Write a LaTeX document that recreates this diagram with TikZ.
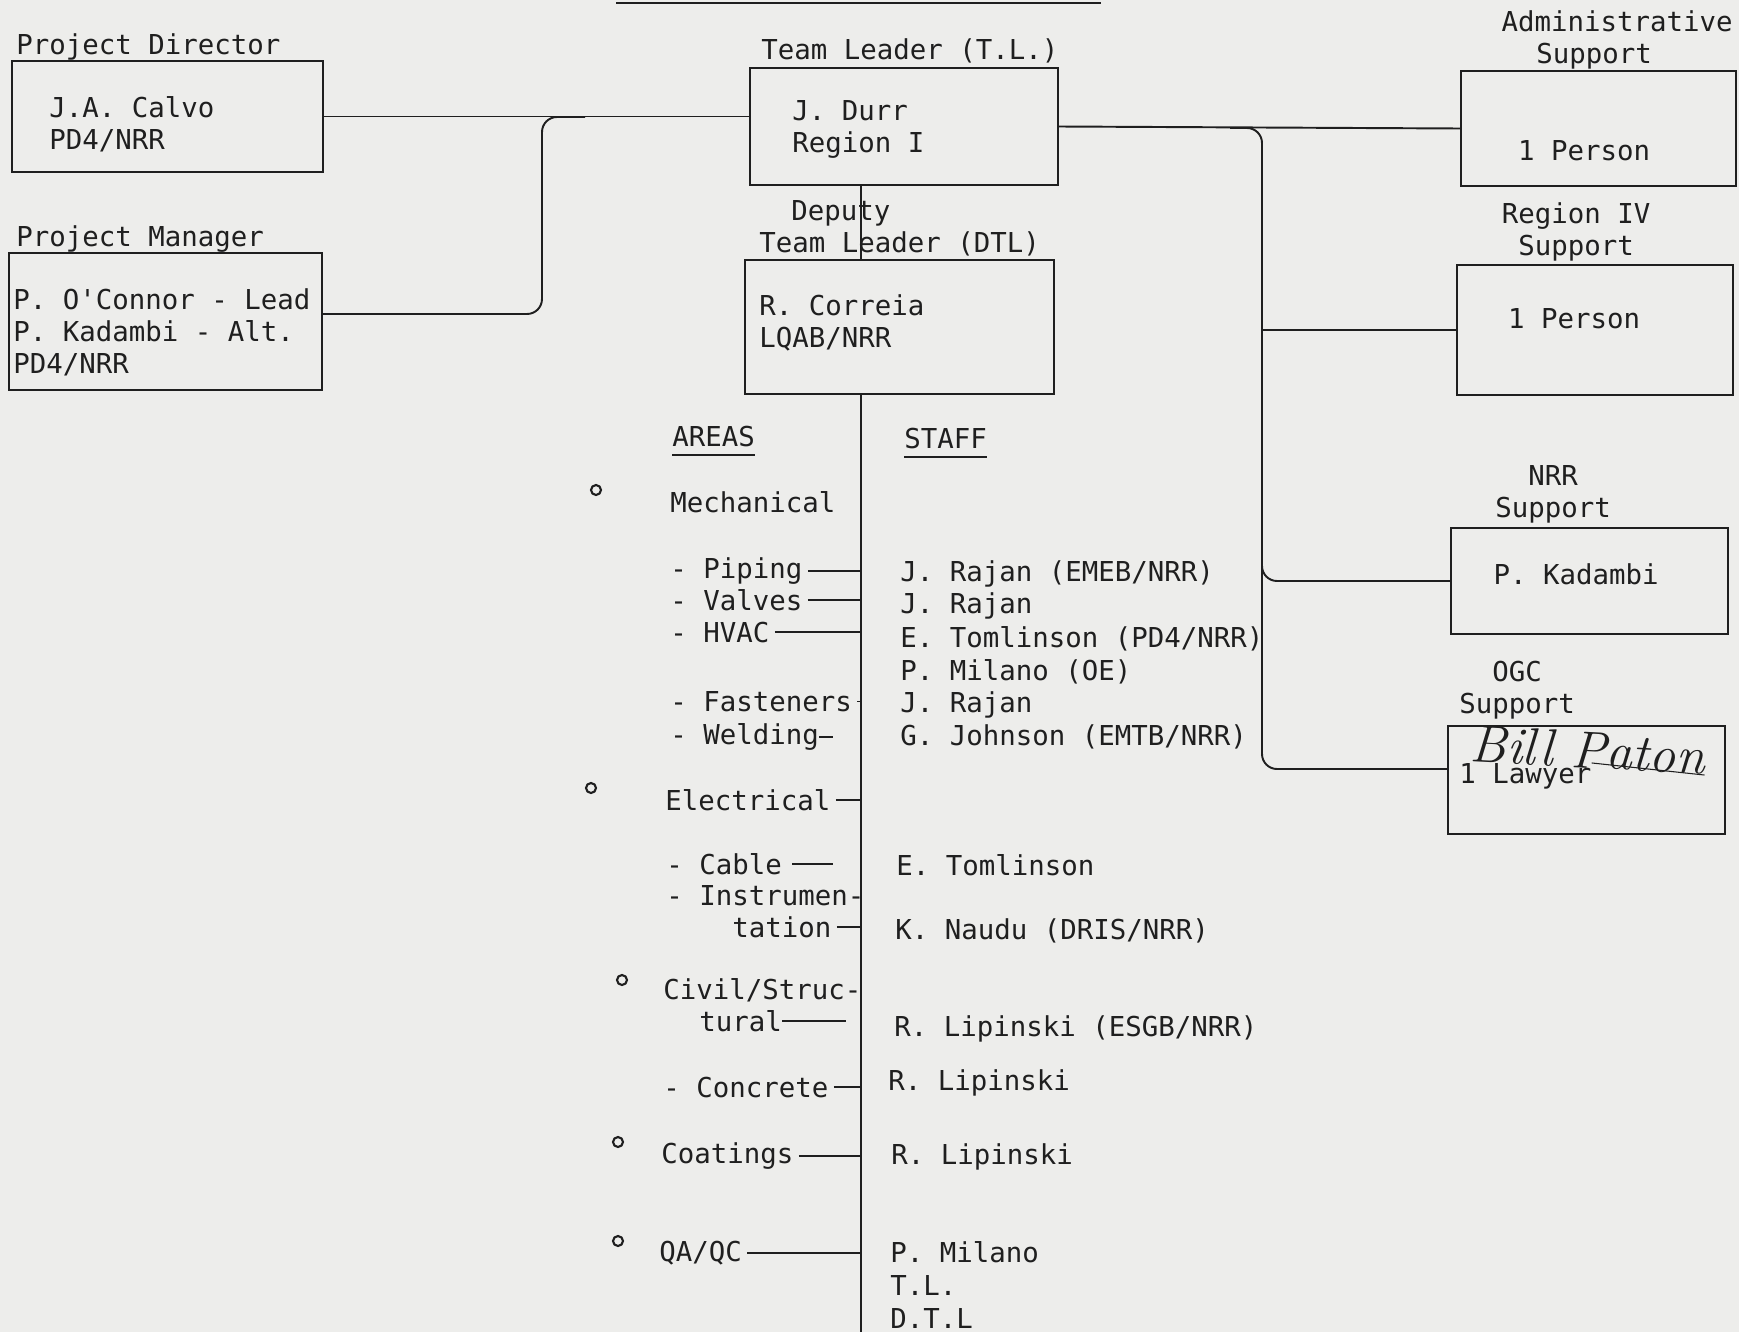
\documentclass[tikz,border=0pt]{standalone}
\usepackage{fontspec}
\usepackage{tikz}
\usetikzlibrary{positioning}
\newfontfamily\chartfont{DejaVu Sans Mono}
\definecolor{ChartInk}{HTML}{1F1F1F}
\definecolor{ChartPaper}{HTML}{EDEDEB}

\begin{document}
\begin{tikzpicture}[
    x=0.02cm, y=-0.02cm,
    unitbox/.style={draw=ChartInk,line width=1.3pt,inner sep=0pt},
    txt/.style={inner sep=0pt,text=ChartInk,
      font=\chartfont\fontsize{15.6}{18.2}\selectfont},
    label/.style={txt,anchor=mid west,yshift=-0.13cm},
    multi/.style={txt,anchor=north west,align=left},
    heading/.style={txt,anchor=north,align=center},
    link/.style={draw=ChartInk,line width=1.1pt},
    dot/.style={circle,draw=ChartInk,line width=1.2pt,inner sep=0pt,
      minimum size=0.2cm}
  ]
  \fill[ChartPaper] (0,0) rectangle (1739,1332);
  \useasboundingbox (0,0) rectangle (1739,1332);
  \draw[link] (616,3) -- (1101,3);

  % boxes
  \node[unitbox,minimum width=6.22cm,minimum height=2.22cm] (pd) at (167.5,116.5) {};
  \node[unitbox,minimum width=6.26cm,minimum height=2.74cm] (pm) at (165.5,321.5) {};
  \node[unitbox,minimum width=6.16cm,minimum height=2.34cm] (tl) at (904,126.5) {};
  \node[unitbox,minimum width=6.18cm,minimum height=2.68cm] (dtl) at (899.5,327) {};
  \node[unitbox,minimum width=5.5cm,minimum height=2.3cm] (adm) at (1598.5,128.5) {};
  \node[unitbox,minimum width=5.52cm,minimum height=2.6cm] (riv) at (1595,330) {};
  \node[unitbox,minimum width=5.54cm,minimum height=2.12cm] (nrr) at (1589.5,581) {};
  \node[unitbox,minimum width=5.54cm,minimum height=2.16cm] (ogc) at (1586.5,780) {};

  % box titles and contents
  \node[label] (pdtitle) at (16,44) {Project Director};
  \node[multi] (pdname) at (49,96) {J.A. Calvo\\PD4/NRR};
  \node[label] (pmtitle) at (16,236) {Project Manager};
  \node[multi] (pmname) at (13,288) {P. O'Connor - Lead\\P. Kadambi - Alt.\\PD4/NRR};
  \node[label] (tltitle) at (761,49) {Team Leader (T.L.)};
  \node[multi] (tlname) at (792,100) {J. Durr\\Region I};
  \node[label] (dtltitle) at (791,210) {Deputy};
  \node[label] (dtltitleb) at (759,242) {Team Leader (DTL)};
  \node[multi] (dtlname) at (759,294) {R. Correia\\LQAB/NRR};
  \node[label,anchor=mid] (admtitle) at (1617,21) {Administrative};
  \node[label,anchor=mid] (admtitleb) at (1594,53) {Support};
  \node[label,anchor=mid] (admname) at (1584,150) {1 Person};
  \node[heading] (rivtitle) at (1576,202) {Region IV\\Support};
  \node[label,anchor=mid] (rivname) at (1574,318) {1 Person};
  \node[heading] (nrrtitle) at (1553,465) {NRR\\Support};
  \node[label,anchor=mid] (nrrname) at (1576,574) {P. Kadambi};
  \node[heading] (ogctitle) at (1517,661) {OGC\\Support};
  \node[label] (lawyer) at (1459,773) {1 Lawyer};
  \node[inner sep=0pt,text=ChartInk,rotate=-3,
    font=\rmfamily\itshape\fontsize{30}{30}\selectfont] (paton) at (1588,750) {Bill Paton};
  \draw[ChartInk,line width=0.6pt] (lawyer.north east) -- (paton.south east);

  % areas and staff
  \node[label] (areas) at (672,436) {AREAS};
  \node[label] (staff) at (904,438) {STAFF};
  \draw[link] ([yshift=-0.16cm]areas.south west) -- ([yshift=-0.16cm]areas.south east);
  \draw[link] ([yshift=-0.16cm]staff.south west) -- ([yshift=-0.16cm]staff.south east);

  \node[dot] (b1) at (596,490) {};
  \node[dot] (b2) at (591,788) {};
  \node[dot] (b3) at (622,980) {};
  \node[dot] (b4) at (618,1142) {};
  \node[dot] (b5) at (618,1241) {};

  \node[label] (mech) at (670,502) {Mechanical};
  \node[label] (pip) at (670,568) {- Piping};
  \node[label] (val) at (670,600) {- Valves};
  \node[label] (hvac) at (670,632) {- HVAC};
  \node[label] (fas) at (670,701) {- Fasteners};
  \node[label] (wel) at (670,734) {- Welding};
  \node[label] (ele) at (665,800) {Electrical};
  \node[label] (cab) at (666,864) {- Cable};
  \node[label] (ins) at (666,895) {- Instrumen-};
  \node[label] (tat) at (732,927) {tation};
  \node[label] (civ) at (663,989) {Civil/Struc-};
  \node[label] (tur) at (699,1021) {tural};
  \node[label] (con) at (663,1087) {- Concrete};
  \node[label] (coa) at (661,1153) {Coatings};
  \node[label] (qa) at (659,1251) {QA/QC};

  \node[label] (s1) at (900,571) {J. Rajan (EMEB/NRR)};
  \node[label] (s2) at (900,603) {J. Rajan};
  \node[label] (s3) at (900,637) {E. Tomlinson (PD4/NRR)};
  \node[label] (s4) at (900,670) {P. Milano (OE)};
  \node[label] (s5) at (900,702) {J. Rajan};
  \node[label] (s6) at (900,735) {G. Johnson (EMTB/NRR)};
  \node[label] (s7) at (896,865) {E. Tomlinson};
  \node[label] (s8) at (895,929) {K. Naudu (DRIS/NRR)};
  \node[label] (s9) at (894,1026) {R. Lipinski (ESGB/NRR)};
  \node[label] (s10) at (888,1080) {R. Lipinski};
  \node[label] (s11) at (891,1154) {R. Lipinski};
  \node[label] (s12) at (890,1252) {P. Milano};
  \node[label] (s13) at (890,1285) {T.L.};
  \node[label] (s14) at (890,1318) {D.T.L};

  % connectors
  \coordinate (spine) at (861,0);
  \coordinate (spineend) at (861,1332);
  \coordinate (bus) at (1262,0);
  \coordinate (bustop) at (1230,128);
  \coordinate (ogcin) at ([yshift=0.22cm]ogc.west);
  \coordinate (pmout) at ([yshift=0.15cm]pm.east);
  \coordinate (pmknee) at (542,117);
  \coordinate (pmjoin) at (585,117);

  \draw[link] (pd.east) -- (pd.east -| tl.west);
  \draw[link,rounded corners=0.3cm] (pmout) -| (pmknee) -- (pmjoin);
  \draw[link] (tl.south -| spine) -- (dtl.north -| spine);
  \draw[link] (dtl.south -| spine) -- (spineend);
  \draw[link] (tl.east) -- (adm.west);
  \draw[link,rounded corners=0.3cm] (bustop) -| (ogcin -| bus) -- (ogcin);
  \draw[link] (riv.west -| bus) -- (riv.west);
  \draw[link,rounded corners=0.3cm] (bus |- nrr.north) |- (nrr.west);

  \foreach \a in {pip,val,hvac,fas,ele,tat,con,coa,qa}
    \draw[link,shorten <=3pt] (\a.east) -- (\a.east -| spine);
  \draw[link] (wel.east) -- ++(14,0);
  \draw[link] ([xshift=0.2cm]cab.east) -- ++(41,0);
  \draw[link] (tur.east) -- ++(64,0);
\end{tikzpicture}
\end{document}
